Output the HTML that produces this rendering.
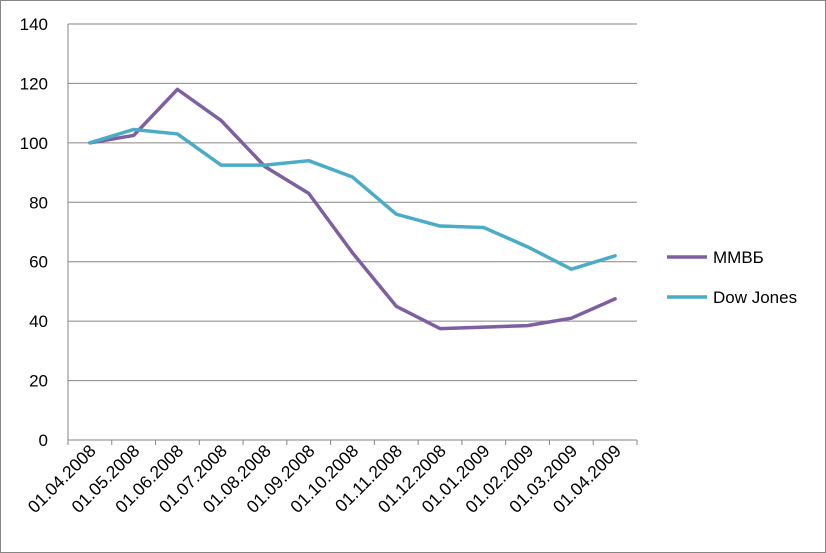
<!DOCTYPE html>
<html><head><meta charset="utf-8"><style>
body{margin:0;background:#fff}
svg{display:block;font-family:"Liberation Sans",sans-serif}
</style></head><body>
<svg id="chart" width="826" height="553" viewBox="0 0 826 553">
<rect x="0.5" y="0.5" width="825" height="552" fill="#fff" stroke="#868686"/>
<g id="grid"></g><g id="axes"></g><g id="series"></g><g id="legend"></g>
</svg>
<script>
const categories=["01.04.2008","01.05.2008","01.06.2008","01.07.2008","01.08.2008","01.09.2008","01.10.2008","01.11.2008","01.12.2008","01.01.2009","01.02.2009","01.03.2009","01.04.2009"];
const mmvbValues=[100,102.5,118,107.5,92,83,63,45,37.5,38,38.5,41,47.5];
const dowValues=[100,104.5,103,92.5,92.5,94,88.5,76,72,71.5,65,57.5,62];
const yTicks=[0,20,40,60,80,100,120,140];
const seriesNames=["ММВБ","Dow Jones"];
const colors=["#7e5fa0","#4bacc6"];
const NS="http://www.w3.org/2000/svg";
const L=68,R=637,T=24,B=440,yMax=140;
const bw=(R-L)/categories.length;
const x=i=>L+bw*(i+0.5);
const y=v=>B-(v/yMax)*(B-T);
function mk(tag,attrs,parent){const e=document.createElementNS(NS,tag);for(const k in attrs)e.setAttribute(k,attrs[k]);parent.appendChild(e);return e;}
const grid=document.getElementById('grid'),axes=document.getElementById('axes'),ser=document.getElementById('series'),leg=document.getElementById('legend');
yTicks.forEach(t=>{
 const ln=mk('line',{x1:L,x2:R,y1:y(t),y2:y(t),stroke:'#868686','stroke-width':1},grid);
 
 
 const tx=mk('text',{x:48,y:y(t)+6,'text-anchor':'end','font-size':17,fill:'#000'},axes);
 tx.textContent=t;
 
 
});
const ya=mk('line',{x1:L,x2:L,y1:T,y2:B,stroke:'#868686'},axes);


for(let i=0;i<=categories.length;i++){
 const tk=mk('line',{x1:L+bw*i,x2:L+bw*i,y1:B,y2:B+5,stroke:'#868686'},axes);
 
 
}
categories.forEach((c,i)=>{
 const px=x(i)+7,py=B+12;
 const tx=mk('text',{x:px,y:py,'text-anchor':'end','font-size':17.5,fill:'#000',transform:`rotate(-45 ${px} ${py})`},axes);
 tx.textContent=c;
 
 
});
[mmvbValues,dowValues].forEach((vals,s)=>{
 const p=mk('polyline',{points:vals.map((v,i)=>x(i)+','+y(v)).join(' '),fill:'none',stroke:colors[s],'stroke-width':3.5,'stroke-linejoin':'round','stroke-linecap':'round'},ser);
 
 
 const ly=257+40*s;
 const ll=mk('line',{x1:667,x2:707,y1:ly,y2:ly,stroke:colors[s],'stroke-width':3.5},leg);
 
 
 const lt=mk('text',{x:713,y:ly+6,'font-size':17,fill:'#000'},leg);
 lt.textContent=seriesNames[s];
 
 
});
</script>
</body></html>
